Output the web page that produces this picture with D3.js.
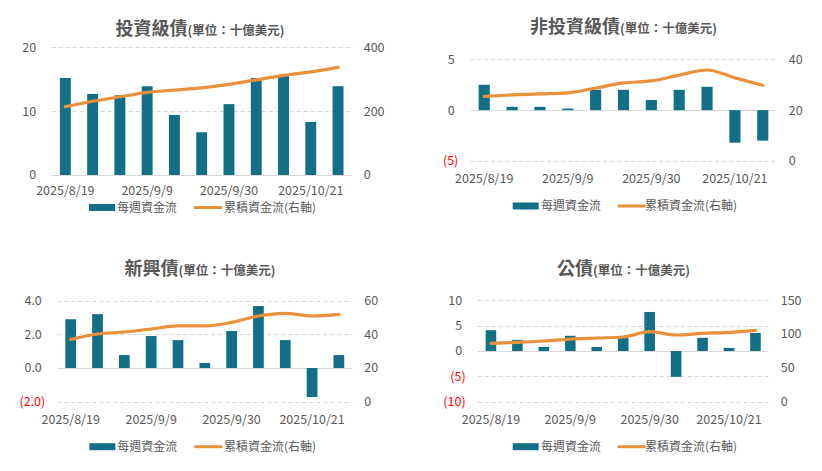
<!DOCTYPE html>
<html>
<head>
<meta charset="utf-8">
<script src="https://cdn.jsdelivr.net/npm/d3@7"></script>
<style>
  body { margin: 0; background: #fff; }
  svg { display: block; }
  text { font-family: "Noto Sans CJK TC", "Noto Sans", sans-serif; fill: #595959; }
</style>
</head>
<body>
<svg width="822" height="471"></svg>
<script>
let dates = ["2025/8/19", "2025/8/26", "2025/9/2", "2025/9/9", "2025/9/16", "2025/9/23",
  "2025/9/30", "2025/10/7", "2025/10/14", "2025/10/21", "2025/10/28"];

let igWeekly = [15.2, 12.7, 12.5, 13.9, 9.4, 6.7, 11.1, 15.2, 15.6, 8.3, 13.9];
let igCum = [214, 231, 245, 259, 266, 273, 284, 298, 312, 323, 337];

let hyWeekly = [2.5, 0.33, 0.33, 0.16, 2.0, 2.0, 1.0, 2.0, 2.3, -3.2, -3.0];
let hyCum = [25.4, 26.0, 26.4, 26.8, 28.7, 30.7, 31.5, 33.8, 35.8, 32.7, 29.8];

let emWeekly = [2.9, 3.2, 0.77, 1.9, 1.66, 0.3, 2.2, 3.68, 1.66, -1.72, 0.77];
let emCum = [37.0, 40.2, 41.4, 43.2, 45.0, 45.0, 47.1, 50.9, 52.5, 50.9, 51.9];

let govWeekly = [4.1, 2.2, 0.8, 3.0, 0.8, 2.7, 7.7, -5.1, 2.6, 0.6, 3.55];
let govCum = [86.3, 87.8, 89.8, 92.7, 94.2, 95.7, 103.6, 98.7, 101.1, 102.6, 105.6];

let titles = ["投資級債", "非投資級債", "新興債", "公債"];
let unitText = "(單位：十億美元)";
let legendBar = "每週資金流";
let legendLine = "累積資金流(右軸)";

let barColor = "#136f86";
let lineColor = "#e8913a";
let gridColor = "#d9d9d9";

let panels = [
  { title: titles[0], weekly: igWeekly, cum: igCum,
    left: 51.7, right: 351.7, top: 47.3, bottom: 175,
    yL: [0, 20], yLstep: 10, yR: [0, 400], yRstep: 200, dec: 0,
    titleX: 200, titleY: 29, xLabY: 190.5, legY: 207.5,
    legRect: 89, legText: 117, legLine: 194, legLineText: 224 },
  { title: titles[1], weekly: hyWeekly, cum: hyCum,
    left: 470.3, right: 776.7, top: 59.3, bottom: 161,
    yL: [-5, 5], yLstep: 5, yR: [0, 40], yRstep: 20, dec: 0,
    titleX: 623.5, titleY: 27.5, xLabY: 179, legY: 206,
    legRect: 512.7, legText: 541, legLine: 617.7, legLineText: 645 },
  { title: titles[2], weekly: emWeekly, cum: emCum,
    left: 57.3, right: 352.3, top: 300.7, bottom: 401.7,
    yL: [-2, 4], yLstep: 2, yR: [0, 60], yRstep: 20, dec: 1,
    titleX: 200, titleY: 269.5, xLabY: 419.5, legY: 446.7,
    legRect: 89.3, legText: 117.3, legLine: 194.3, legLineText: 224 },
  { title: titles[3], weekly: govWeekly, cum: govCum,
    left: 477.7, right: 768.7, top: 300.3, bottom: 401.7,
    yL: [-10, 10], yLstep: 5, yR: [0, 150], yRstep: 50, dec: 0,
    titleX: 623.5, titleY: 269.5, xLabY: 419.5, legY: 446.7,
    legRect: 512.7, legText: 541, legLine: 617.7, legLineText: 645 }
];

let svg = d3.select("svg");

panels.forEach(p => {
  let g = svg.append("g");

  let x = d3.scaleBand()
    .domain(dates)
    .range([p.left, p.right])
    .paddingInner(0.6)
    .paddingOuter(0.3);

  let yL = d3.scaleLinear().domain(p.yL).range([p.bottom, p.top]);
  let yR = d3.scaleLinear().domain(p.yR).range([p.bottom, p.top]);

  let leftTicks = d3.range(p.yL[0], p.yL[1] + p.yLstep / 2, p.yLstep);
  let rightTicks = d3.range(p.yR[0], p.yR[1] + p.yRstep / 2, p.yRstep);

  // gridlines, zero line solid
  g.selectAll("line.grid")
    .data(leftTicks)
    .enter()
    .append("line")
    .attr("x1", p.left)
    .attr("x2", p.right)
    .attr("y1", d => Math.round(yL(d)) + 0.5)
    .attr("y2", d => Math.round(yL(d)) + 0.5)
    .style("stroke", gridColor)
    .style("stroke-width", 1)
    .style("stroke-dasharray", d => (d === 0 ? null : "4,3"));

  // left tick labels, negatives red in parentheses
  let fmt = d3.format("." + p.dec + "f");
  g.selectAll("text.yl")
    .data(leftTicks)
    .enter()
    .append("text")
    .attr("x", d => (d < 0 ? p.left - 12 : p.left - 15.5))
    .attr("y", d => yL(d))
    .attr("dy", "0.35em")
    .attr("text-anchor", "end")
    .style("font-size", "12.5px")
    .style("fill", d => (d < 0 ? "#ff0000" : "#595959"))
    .text(d => (d < 0 ? "(" + fmt(-d) + ")" : fmt(d)));

  g.selectAll("text.yr")
    .data(rightTicks)
    .enter()
    .append("text")
    .attr("x", p.right + 12)
    .attr("y", d => yR(d))
    .attr("dy", "0.35em")
    .style("font-size", "12.5px")
    .text(d => d);

  // bars
  g.selectAll("rect.bar")
    .data(p.weekly)
    .enter()
    .append("rect")
    .attr("x", (d, i) => x(dates[i]))
    .attr("width", x.bandwidth())
    .attr("y", d => yL(Math.max(0, d)))
    .attr("height", d => Math.abs(yL(d) - yL(0)))
    .style("fill", barColor);

  // cumulative line
  let line = d3.line()
    .x((d, i) => x(dates[i]) + x.bandwidth() / 2)
    .y(d => yR(d))
    .curve(d3.curveMonotoneX);

  g.append("path")
    .attr("d", line(p.cum))
    .style("fill", "none")
    .style("stroke", lineColor)
    .style("stroke-width", 3.2)
    .style("stroke-linecap", "round");

  // x labels every third week
  g.selectAll("text.xl")
    .data(dates.filter((d, i) => i % 3 === 0))
    .enter()
    .append("text")
    .attr("x", d => x(d) + x.bandwidth() / 2)
    .attr("y", p.xLabY)
    .attr("dy", "0.35em")
    .attr("text-anchor", "middle")
    .style("font-size", "12.5px")
    .text(d => d);

  // title
  let t = g.append("text")
    .attr("x", p.titleX)
    .attr("y", p.titleY)
    .attr("dy", "0.35em")
    .attr("text-anchor", "middle")
    .style("font-weight", "bold");
  t.append("tspan").style("font-size", "18px").text(p.title);
  t.append("tspan").style("font-size", "12.5px").text(unitText);

  // legend
  g.append("rect")
    .attr("x", p.legRect)
    .attr("y", p.legY - 3.5)
    .attr("width", 26)
    .attr("height", 7)
    .style("fill", barColor);
  g.append("text")
    .attr("x", p.legText)
    .attr("y", p.legY)
    .attr("dy", "0.35em")
    .style("font-size", "12px")
    .text(legendBar);
  g.append("line")
    .attr("x1", p.legLine)
    .attr("x2", p.legLine + 28)
    .attr("y1", p.legY)
    .attr("y2", p.legY)
    .style("stroke", lineColor)
    .style("stroke-width", 3);
  g.append("text")
    .attr("x", p.legLineText)
    .attr("y", p.legY)
    .attr("dy", "0.35em")
    .style("font-size", "12px")
    .text(legendLine);
});
</script>
</body>
</html>
